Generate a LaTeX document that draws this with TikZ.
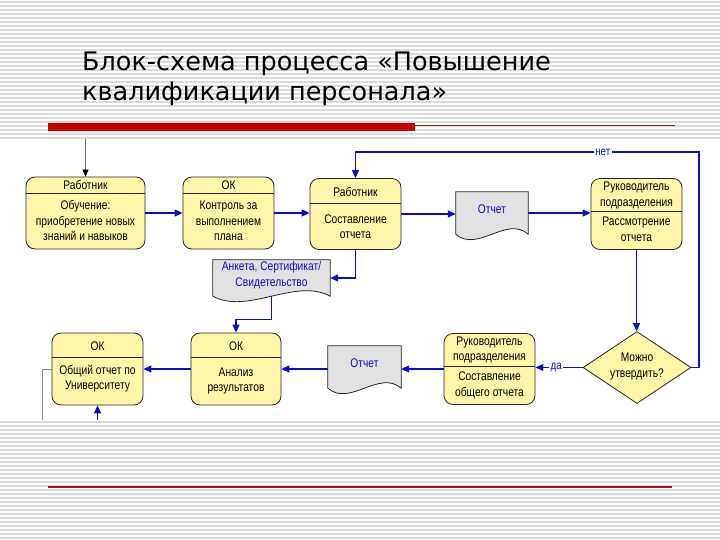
\documentclass[tikz,border=0pt]{standalone}
\usepackage{fontspec}
\setmainfont{Liberation Sans}
\newfontfamily\titlefont{DejaVu Sans}
\newfontfamily\boxfont[FakeStretch=0.82]{Liberation Sans}
\usetikzlibrary{arrows.meta,shapes.geometric,calc,positioning}

\definecolor{boxyellow}{RGB}{255,246,170}
\definecolor{docgray}{RGB}{225,225,225}
\definecolor{flowblue}{RGB}{12,12,200}
\definecolor{barred}{RGB}{204,0,0}
\definecolor{linered}{RGB}{150,25,25}
\definecolor{stripegray}{RGB}{218,218,218}

\tikzset{
  proc/.style={draw=black!85,fill=boxyellow,rounded corners=9pt,line width=0.8pt,inner sep=0pt},
  sepline/.style={draw=black!85,line width=0.8pt},
  txt/.style={font=\boxfont\fontsize{12.5}{15.5}\selectfont,align=center,inner sep=0pt},
  doctxt/.style={txt,text=flowblue},
  docnode/.style={inner sep=0pt,draw=none},
  docline/.style={draw=black!85,fill=docgray,line width=0.8pt},
  flow/.style={draw=flowblue,line width=1.2pt,-{Triangle[length=8pt,width=7pt]}},
  inarrow/.style={draw=black!55,line width=0.8pt,-{Triangle[length=7pt,width=6pt,black]}},
  grayline/.style={draw=black!45,line width=0.8pt},
  lbl/.style={font=\boxfont\fontsize{12}{13}\selectfont,text=flowblue,fill=white,inner sep=1.5pt},
  titletxt/.style={font=\titlefont\fontsize{25.5}{30}\selectfont,anchor=base west,inner sep=0pt}
}

% document symbol with wavy bottom round a named node
\newcommand{\docbox}[1]{%
  \draw[docline] (#1.north west) -- (#1.north east) -- (#1.south east)
    .. controls ($(#1.south east)!0.3!(#1.south west)+(0,-19)$)
    and ($(#1.south east)!0.7!(#1.south west)+(0,19)$) .. (#1.south west) -- cycle;}

\begin{document}
\begin{tikzpicture}[x=1pt,y=-1pt]
\useasboundingbox (0,0) rectangle (720,540);
% slide background
\fill[white] (0,0) rectangle (720,540);
\foreach \y in {2,6,...,538}
  \draw[stripegray,line width=1.2pt] (0,\y) -- (720,\y);
\fill[white] (0,139) rectangle (720,420);

% title
\node[titletxt] (title1) at (82,71) {Блок-схема процесса «Повышение};
\node[titletxt] (title2) at (82,101) {квалификации персонала»};
\fill[barred] (48,123) rectangle (415,131);
\draw[linered,line width=1pt] (415,125.5) -- (675,125.5);
\fill[white] (48,485.5) rectangle (672,488.5);
\draw[linered,line width=1.2pt] (48,487) -- (672,487);

% top row
\node[proc,minimum width=119pt,minimum height=72pt] (A) at (85.5,213) {};
\draw[sepline] (A.west |- 0,193) -- (A.east |- 0,193);
\node[txt] (Ah) at (85.5,185) {Работник};
\node[txt] (Ab) at (85.5,220.5) {Обучение:\\приобретение новых\\знаний и навыков};

\node[proc,minimum width=91pt,minimum height=72pt] (B) at (228.5,213) {};
\draw[sepline] (B.west |- 0,193) -- (B.east |- 0,193);
\node[txt] (Bh) at (228.5,185) {ОК};
\node[txt] (Bb) at (228.5,221) {Контроль за\\выполнением\\плана};

\node[proc,minimum width=91pt,minimum height=71pt] (C) at (355.5,214) {};
\draw[sepline] (C.west |- 0,203) -- (C.east |- 0,203);
\node[txt] (Ch) at (355.5,191.5) {Работник};
\node[txt] (Cb) at (355.5,226.5) {Составление\\отчета};

\node[docnode,minimum width=72pt,minimum height=42pt] (rep1) at (492,213) {};
\docbox{rep1}
\node[doctxt] (rep1t) at (492,209) {Отчет};

\node[proc,minimum width=91pt,minimum height=71pt] (D) at (636.5,214) {};
\draw[sepline] (D.west |- 0,211) -- (D.east |- 0,211);
\node[txt] (Dh) at (636.5,195.5) {Руководитель\\подразделения};
\node[txt] (Db) at (636.5,229.5) {Рассмотрение\\отчета};

\node[docnode,minimum width=117pt,minimum height=36pt] (ank) at (271.5,278) {};
\docbox{ank}
\node[doctxt] (ankt) at (271.5,275) {Анкета, Сертификат/\\Свидетельство};

% bottom row
\node[draw=black!85,fill=boxyellow,diamond,minimum width=108pt,minimum height=72pt,
  inner sep=0pt,line width=0.8pt] (dia) at (637,367.5) {};
\node[txt] (diat) at (637,366.5) {Можно\\утвердить?};

\node[proc,minimum width=91pt,minimum height=71pt] (E) at (489.5,369) {};
\draw[sepline] (E.west |- 0,366) -- (E.east |- 0,366);
\node[txt] (Eh) at (489.5,350) {Руководитель\\подразделения};
\node[txt] (Eb) at (489.5,385.5) {Составление\\общего отчета};

\node[docnode,minimum width=73pt,minimum height=42pt] (rep2) at (364.5,367) {};
\docbox{rep2}
\node[doctxt] (rep2t) at (364.5,363) {Отчет};

\node[proc,minimum width=90pt,minimum height=72pt] (F) at (236,369) {};
\draw[sepline] (F.west |- 0,357) -- (F.east |- 0,357);
\node[txt] (Fh) at (236,346.5) {ОК};
\node[txt] (Fb) at (236,381) {Анализ\\результатов};

\node[proc,minimum width=91pt,minimum height=72pt] (G) at (97.5,369) {};
\draw[sepline] (G.west |- 0,357) -- (G.east |- 0,357);
\node[txt] (Gh) at (97.5,346) {ОК};
\node[txt] (Gb) at (97.5,378.5) {Общий отчет по\\Университету};

% connectors
\coordinate (in0) at (85.5,139);
\coordinate (netc) at (699,152);
\coordinate (in1) at (97.5,420);
\coordinate (out1) at (42,420);
\draw[inarrow] (in0) -- (A.north);
\draw[flow] (A) -- (B);
\draw[flow] (B.east) -- (B.east -| C.west);
\draw[flow] (C.east) -- (C.east -| rep1.west);
\draw[flow] (rep1.east) -- (rep1.east -| D.west);
\draw[flow] (C.south) |- (ank.east);
\draw[flow] (ank.south) -- ++(0,23) -| (F.north);
\draw[flow] (D.south) -- (D.south |- dia.north);
\draw[flow] (dia.east) -| (netc) -| node[pos=0.14,lbl] {нет} (C.north);
\draw[flow] (dia.west) -- node[pos=0.56,lbl] {да} (dia.west -| E.east);
\draw[flow] (E.west) -- (E.west -| rep2.east);
\draw[flow] (rep2.west |- E.west) -- (F.east);
\draw[flow] (F) -- (G);
\draw[flow] (in1) -- (G.south);
\draw[grayline] (G.west) -| (out1);
\end{tikzpicture}
\end{document}
